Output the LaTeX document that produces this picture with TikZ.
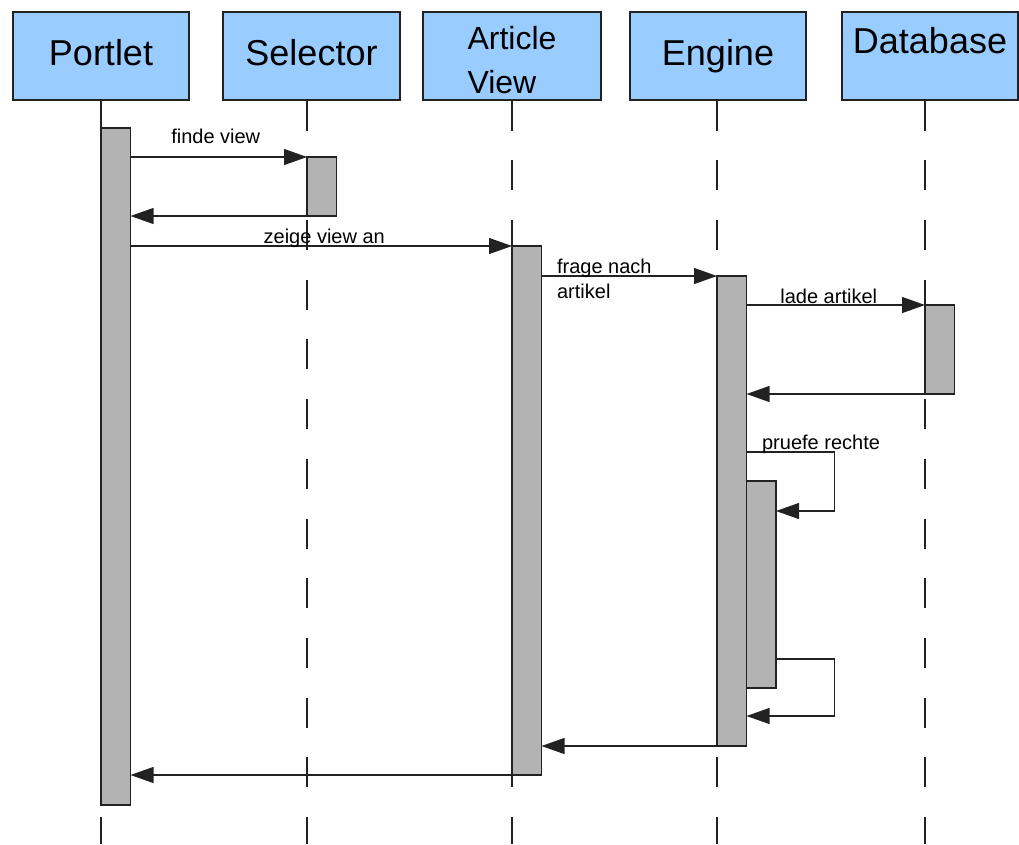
\documentclass[tikz,border=0pt]{standalone}
\usepackage{fontspec}
\setmainfont{Liberation Sans}
\usetikzlibrary{arrows.meta,positioning}
\definecolor{headblue}{HTML}{99CCFF}
\definecolor{bargray}{HTML}{B3B3B3}
\definecolor{ink}{HTML}{222222}
\tikzset{
  head/.style={draw=ink,fill=headblue,line width=1.2pt,inner sep=0pt,
    minimum height=88pt,font=\fontsize{36}{44}\selectfont},
  oneline/.style={text height=26pt,text depth=8pt},
  life/.style={draw=ink,line width=1.2pt,dash pattern=on 30pt off 29.7pt},
  actbar/.style={draw=ink,fill=bargray,line width=1.2pt,inner sep=0pt,outer sep=0pt,
    minimum width=29.5pt,anchor=north west},
  msg/.style={-{Triangle[length=23pt,width=16pt]},draw=ink,line width=1.2pt},
  lbl/.style={font=\fontsize{20}{25}\selectfont,inner sep=0pt}
}

\begin{document}
\begin{tikzpicture}[x=1pt,y=-1pt]
\useasboundingbox (0,0) rectangle (1019,844);
% objects
\node[head,oneline,minimum width=176pt] (port) at (101,56) {Portlet};
\node[head,oneline,minimum width=177pt] (sel) at (311.5,56) {Selector};
\node[head,align=left,minimum width=178pt,font=\fontsize{32}{44}\selectfont] (art) at (512,56) {\rule{0pt}{31pt}Article\\View};
\node[head,oneline,minimum width=176pt] (eng) at (718,56) {Engine};
\node[head,text height=26pt,text depth=32pt,minimum width=176pt] (db) at (930,56) {Database};
% lifelines
\foreach \h/\x in {port/101,sel/307,art/512,eng/717,db/925} {
  \draw[life] (\h.south -| \x,0) -- (\x,844);
}
% activations
\node[actbar,minimum height=677pt] (pbar) at (101,128) {};
\node[actbar,minimum height=59pt] (sbar) at (307,157) {};
\node[actbar,minimum height=529pt] (abar) at (512,246) {};
\node[actbar,minimum height=470pt] (ebar) at (717,276) {};
\node[actbar,minimum height=89pt] (dbar) at (925,305) {};
\node[actbar,minimum height=207pt] (nbar) at (ebar.north east |- 0,481) {};
% messages
\draw[msg] (pbar.east |- sbar.north) -- node[lbl,anchor=base,yshift=14pt,xshift=-3pt]{finde view} (sbar.north west);
\draw[msg] (sbar.south west) -- (pbar.east |- sbar.south);
\draw[msg] (pbar.east |- abar.north) -- node[lbl,anchor=base,yshift=3pt,xshift=3pt]{zeige view an} (abar.north west);
\draw[msg] (abar.east |- ebar.north) -- node[lbl,pos=0,anchor=north west,xshift=15pt,yshift=18pt,align=left]{frage nach\\artikel} (ebar.north west);
\draw[msg] (ebar.east |- dbar.north) -- node[lbl,anchor=base,yshift=2pt,xshift=-7pt]{lade artikel} (dbar.north west);
\draw[msg] (dbar.south west) -- (ebar.east |- dbar.south);
\draw[msg] (ebar.east |- 0,452) -- node[lbl,pos=0,anchor=base west,xshift=15pt,yshift=3pt]{pruefe rechte} ++(88,0) |- (nbar.east |- 0,511);
\draw[msg] (nbar.east |- 0,659) -- ++(58.5,0) |- (ebar.east |- 0,716);
\draw[msg] (ebar.south west) -- (abar.east |- ebar.south);
\draw[msg] (abar.south west) -- (pbar.east |- abar.south);
\end{tikzpicture}
\end{document}
